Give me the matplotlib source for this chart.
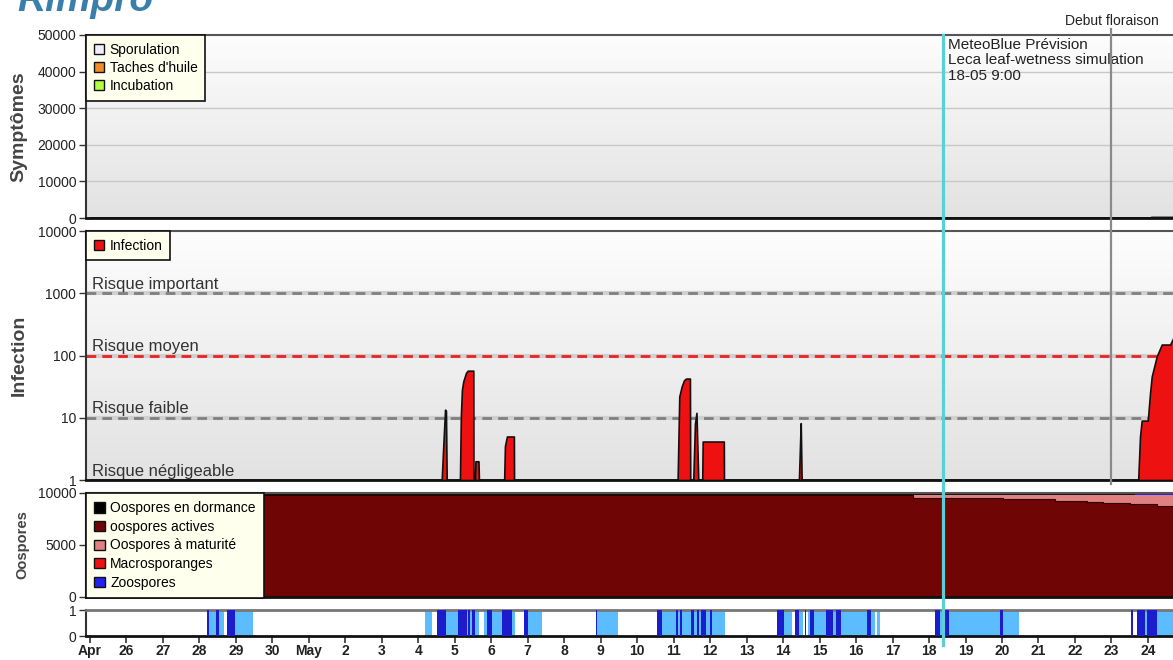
import numpy as np
import pandas as pd
import matplotlib
matplotlib.use("Agg")
import matplotlib.pyplot as plt
import matplotlib.dates as mdates
from matplotlib.patches import Patch
from matplotlib.lines import Line2D
from matplotlib.colors import LinearSegmentedColormap
from matplotlib.transforms import blended_transform_factory
from matplotlib.ticker import FuncFormatter, NullLocator

plt.rcParams["font.family"] = ["Liberation Sans", "DejaVu Sans"]

# all times are hours after 25 April 00:00
start = pd.Timestamp("2024-04-25 00:00")
x_range_h = (-2.6, 712.5)
day_ticks = pd.date_range("2024-04-25", "2024-05-24", freq="D")

# Symptômes (only a tiny incubation value at the very end)
sympt_hours = [0, 698.0, 698.1, 716]
incubation = [0, 0, 250, 250]

# Infection
inf_hours = [0, 231.4, 232.3, 233.6, 234.2, 234.7,
             243.4, 244.0, 244.7, 245.6, 247.4, 248.5, 252.2, 252.3,
             253.3, 253.6, 255.6, 255.9,
             272.5, 273.0, 274.3, 278.9, 279.0,
             386.6, 387.7, 389.3, 390.8, 392.1, 394.7, 394.9,
             396.9, 398.0, 399.0, 400.2,
             402.8, 403.1, 417.0, 417.1,
             466.4, 467.3, 467.6, 468.2,
             689.6, 690.8, 691.9, 695.9, 697.4, 698.5, 701.8, 705.1, 710.6, 712.6, 716]
infection = [1, 1, 3, 13.5, 13, 1,
             1, 10.5, 28, 38.5, 52.6, 57, 57, 1,
             1, 2, 2, 1,
             1, 3.5, 5, 5, 1,
             1, 22, 32, 40, 42.6, 42.6, 1,
             1, 8, 12, 1,
             1, 4.15, 4.15, 1,
             1, 5, 8.2, 1,
             1, 5, 9, 9, 25, 46, 97, 150, 150, 190, 190]
risk_levels = [1, 10, 100, 1000]
risk_labels = ["Risque négligeable", "Risque faible", "Risque moyen", "Risque important"]

# Oospores (stacked, step after)
oo_hours = [-10, 541.5, 600.7, 634.8, 656.0, 666.4, 684.3, 687.5, 702.0, 716]
oo_actives = [9850, 9550, 9390, 9230, 9165, 9070, 8910, 8910, 8750, 8750]
oo_maturite = [0, 230, 390, 550, 615, 710, 870, 870, 1030, 1030]
oo_macro = [0, 0, 0, 0, 0, 0, 60, 0, 0, 0]
oo_zoo = [0, 0, 0, 0, 0, 0, 0, 100, 100, 100]
oo_dormance = [150, 100, 100, 100, 100, 100, 100, 100, 100, 100]

# leaf wetness strip: light periods and darker sub-periods (start, end hours)
wet_light = [(76.8, 88.2), (90.0, 107.4), (220.4, 225.2), (228.1, 255.9), (259.4, 279.6),
             (285.7, 297.1), (332.9, 347.6), (372.9, 417.8), (451.7, 461.8), (463.6, 469.0),
             (472.6, 516.4), (517.6, 519.9), (556.2, 611.3), (684.7, 686.1), (688.5, 716)]
wet_dark = [(76.8, 78.5), (82.9, 84.9), (90.0, 95.4), (228.1, 234.1), (242.3, 247.8),
            (248.9, 250.0), (251.5, 253.3), (261.0, 264.3), (270.8, 277.8), (285.7, 288.4),
            (332.9, 333.8), (372.9, 376.4), (385.3, 386.7), (387.9, 389.8), (395.7, 397.6),
            (399.3, 401.0), (402.2, 405.3), (407.6, 409.3), (451.7, 456.5), (463.6, 466.5),
            (470.1, 470.9), (473.8, 476.2), (484.2, 489.0), (490.5, 494.1), (511.1, 513.5),
            (556.2, 559.1), (562.8, 565.1), (598.9, 600.5), (684.7, 686.1), (688.5, 693.8),
            (695.5, 702.3)]

forecast_h = 561.0   # 18-05 9:00
flowering_h = 672.0  # 23-05


base = mdates.date2num(start)


def tx(hours):
    return base + np.asarray(hours, dtype=float) / 24.0


W, H = 1173, 660
fig = plt.figure(figsize=(W / 100, H / 100), dpi=100)
grad = LinearSegmentedColormap.from_list("bg", ["#fdfdfd", "#e2e2e2"])


def make_axes(top, bottom, gradient=True):
    rect = [86 / W, 1 - bottom / H, 1 - 86 / W, (bottom - top) / H]
    if gradient:
        bg = fig.add_axes(rect, zorder=0)
        bg.imshow(np.linspace(0, 1, 256).reshape(-1, 1), aspect="auto", cmap=grad,
                  extent=[0, 1, 0, 1])
        bg.axis("off")
    ax = fig.add_axes(rect, zorder=1, facecolor="none" if gradient else "white")
    ax.set_xlim(tx(x_range_h))
    ax.spines["right"].set_visible(False)
    ax.spines["left"].set_color("#333333")
    ax.spines["left"].set_linewidth(1.5)
    ax.spines["top"].set_color("#555555")
    ax.spines["top"].set_linewidth(1.5)
    ax.spines["bottom"].set_color("#111111")
    ax.spines["bottom"].set_linewidth(2)
    ax.tick_params(axis="y", length=5, width=1, color="#333333", labelsize=10,
                   labelcolor="#222222", pad=2)
    ax.tick_params(axis="x", bottom=False, labelbottom=False)
    return ax


def box_legend(ax, items, spacing=0.3, pad=0.55):
    handles = [Patch(facecolor=c, edgecolor="#111111", linewidth=1) for _, c in items]
    leg = ax.legend(handles, [n for n, _ in items], loc="upper left", bbox_to_anchor=(0, 1),
                    borderaxespad=0, fancybox=False, framealpha=1, facecolor="#ffffee",
                    edgecolor="#111111", fontsize=10, handlelength=0.75, handleheight=0.75,
                    handletextpad=0.4, labelspacing=spacing, borderpad=pad)
    leg.get_frame().set_linewidth(1.2)
    leg.set_zorder(10)
    return leg


def side_label(ax, text, size, x_px):
    ax.set_ylabel(text, fontsize=size, fontweight="bold", color="#444444", va="center")
    ax.yaxis.set_label_coords((x_px - 86) / (W - 86), 0.5)


# --- Symptômes ---
ax1 = make_axes(35, 218)
ax1.set_ylim(0, 50000)
ax1.set_yticks([0, 10000, 20000, 30000, 40000, 50000])
for v in [10000, 20000, 30000, 40000]:
    ax1.axhline(v, color="#c8c8c8", lw=1, zorder=1)
ax1.fill_between(tx(sympt_hours), 0, incubation, facecolor="#b0ff40", edgecolor="#111111",
                 lw=1.5, zorder=3)
side_label(ax1, "Symptômes", 14, 19)
box_legend(ax1, [("Sporulation", "#eeeeff"), ("Taches d'huile", "#f28c28"),
                 ("Incubation", "#b0ff40")])

# --- Infection ---
ax2 = make_axes(231, 480)
ax2.set_yscale("log")
ax2.set_ylim(1, 10000)
ax2.set_yticks([1, 10, 100, 1000, 10000])
ax2.yaxis.set_minor_locator(NullLocator())
ax2.yaxis.set_major_formatter(FuncFormatter(lambda v, _: f"{int(round(v))}"))
line_colors = {10: "#808080", 100: "#ee2222", 1000: "#808080"}
ytr = ax2.get_yaxis_transform()
for lvl, lab in zip(risk_levels, risk_labels):
    if lvl in line_colors:
        ax2.axhline(lvl, color="#d0d0d0", lw=3, zorder=1)
        ax2.axhline(lvl, color=line_colors[lvl], lw=2, ls=(0, (3.5, 2.2)), zorder=2)
    ax2.text(0.0055, lvl * 1.18, lab, transform=ytr, fontsize=12, color="#333333",
             va="baseline", ha="left", zorder=4)
ax2.fill_between(tx(inf_hours), 1, infection, facecolor="#ee1111", edgecolor="#111111",
                 lw=1.2, zorder=3)
side_label(ax2, "Infection", 14, 19)
box_legend(ax2, [("Infection", "#ee1111")])

# --- Oospores ---
ax3 = make_axes(493, 597)
ax3.set_ylim(0, 10000)
ax3.set_yticks([0, 5000, 10000])
ax3.stackplot(tx(oo_hours), oo_actives, oo_maturite, oo_macro, oo_zoo, oo_dormance,
              colors=["#700505", "#e08080", "#ee1111", "#2222ee", "#111111"],
              step="post", linewidth=0, zorder=2)
ax3.step(tx(oo_hours), oo_actives, where="post", color="#2a0000", lw=0.8, zorder=3)
side_label(ax3, "Oospores", 10.5, 22)
box_legend(ax3, [("Oospores en dormance", "#000000"), ("oospores actives", "#700505"),
                 ("Oospores à maturité", "#e08080"), ("Macrosporanges", "#ee1111"),
                 ("Zoospores", "#2222ee")], spacing=0.33, pad=0.6)

# --- wetness strip ---
ax4 = make_axes(610, 636, gradient=False)
ax4.set_ylim(0, 1)
ax4.set_yticks([0, 1])
ax4.spines["top"].set_color("#777777")
ax4.spines["top"].set_linewidth(2)
ax4.broken_barh([(tx(a), (b - a) / 24) for a, b in wet_light], (0, 1),
                facecolors="#5bbcff", zorder=2)
ax4.broken_barh([(tx(a), (b - a) / 24) for a, b in wet_dark], (0, 1),
                facecolors="#1c1ccc", zorder=3)
ax4.set_xticks(mdates.date2num(day_ticks))
tick_labels = []
for i, d in enumerate(day_ticks):
    if i == 0 or d.day == 1:
        tick_labels.append(d.strftime("%b"))
    else:
        tick_labels.append(str(d.day))
ax4.set_xticklabels(tick_labels, fontsize=10, fontweight="bold", color="#222222")
ax4.tick_params(axis="x", bottom=True, labelbottom=True, length=5, width=1.2,
                color="#333333", pad=1)
ax4.set_xlim(tx(x_range_h))

# --- vertical markers across panels ---
trans = blended_transform_factory(ax4.transData, fig.transFigure)
xf = float(tx(forecast_h))
xg = float(tx(flowering_h))
fig.add_artist(Line2D([xg, xg], [1 - 29 / H, 1 - 484 / H], transform=trans,
                      color="#8a8a8a", lw=1.6, zorder=5))
fig.add_artist(Line2D([xf, xf], [1 - 35 / H, 1 - 645 / H], transform=trans,
                      color="#5ccfd6", lw=2.3, zorder=6))

ax1.annotate("Debut floraison", xy=(xg, 1), xycoords=("data", "axes fraction"),
             xytext=(0, 7), textcoords="offset points", ha="center", va="baseline",
             fontsize=10, color="#222222", annotation_clip=False)
ax1.annotate("MeteoBlue Prévision\nLeca leaf-wetness simulation\n18-05 9:00",
             xy=(xf, 1), xycoords=("data", "axes fraction"), xytext=(4, -2),
             textcoords="offset points", ha="left", va="top", fontsize=11,
             color="#222222", linespacing=1.15)

# logo, cut off at the top of the picture as in the original
fig.text(0.015, 1 - 11 / H, "Rimpro", fontsize=28, fontweight="bold", fontstyle="italic",
         color="#3a7fab", ha="left", va="baseline")

fig.savefig("out.png", dpi=100)
